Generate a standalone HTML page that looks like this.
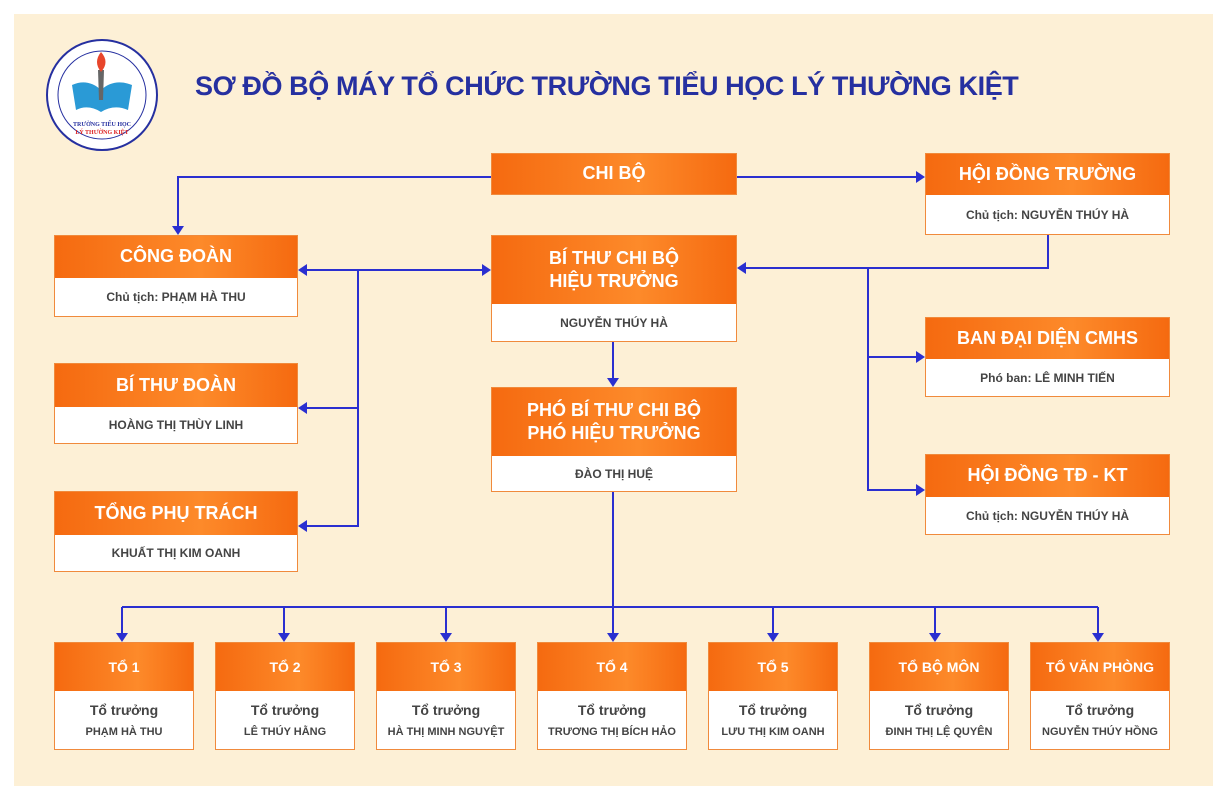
<!DOCTYPE html>
<html><head><meta charset="utf-8"><style>
*{margin:0;padding:0;box-sizing:border-box}
body{width:1228px;height:801px;background:#fff;position:relative;font-family:"Liberation Sans",sans-serif;overflow:hidden}
.bg{position:absolute;left:14px;top:14px;width:1199px;height:772px;background:#fdf0d6}
.b{position:absolute;border:1.5px solid #f08a3c;background:#fff}
.h{background:linear-gradient(90deg,#f56a10,#fd8a2a 60%,#f56a10);color:#fff;font-weight:bold;display:flex;align-items:center;justify-content:center;text-align:center;line-height:1.3}
.w{display:flex;align-items:center;justify-content:center;text-align:center;color:#444;font-weight:bold;font-size:12px}
h1{position:absolute;left:195px;top:71px;font-size:27px;color:#2630a0;font-weight:bold;letter-spacing:-0.4px;white-space:nowrap}
</style></head><body>
<div class="bg"></div>
<svg style="position:absolute;left:0;top:0" width="1228" height="801">
<circle cx="102" cy="95" r="55" fill="#fff" stroke="#2630a0" stroke-width="2"/>
<circle cx="102" cy="95" r="44" fill="none" stroke="#2630a0" stroke-width="1"/>
<path d="M72 85 Q88 78 101 90 Q114 78 132 85 L128 110 Q114 104 101 112 Q88 104 76 110Z" fill="#2a9ad6"/>
<path d="M98 70 L104 70 L103 100 L99 100Z" fill="#666"/>
<path d="M101 52 Q110 62 101 72 Q93 62 101 52Z" fill="#e8452b"/>
<text x="102" y="126" font-size="6" text-anchor="middle" fill="#2630a0" font-family="Liberation Serif" font-weight="bold">TRƯỜNG TIỂU HỌC</text>
<text x="102" y="134" font-size="6" text-anchor="middle" fill="#d22" font-family="Liberation Serif" font-weight="bold">LÝ THƯỜNG KIỆT</text>
<g stroke="#2a2fd0" stroke-width="2" fill="none">
<path d="M491 177 H178 V228"/><path d="M737 177 H918"/>
<path d="M1048 235 V268 H744"/><path d="M868 268 V490 H918"/><path d="M868 357 H918"/>
<path d="M358 270 V526 H305"/><path d="M358 270 H305"/><path d="M358 408 H305"/><path d="M358 270 H484"/>
<path d="M613 342 V380"/><path d="M613 492 V635"/>
<path d="M122 607 H1098"/>
<path d="M122 607 V635"/><path d="M284 607 V635"/><path d="M446 607 V635"/><path d="M773 607 V635"/><path d="M935 607 V635"/><path d="M1098 607 V635"/>
</g>
<g fill="#2a2fd0">
<path d="M172 226 h12 l-6 9z"/>
<path d="M916 171 v12 l9 -6z"/>
<path d="M746 262 v12 l-9 -6z"/>
<path d="M916 351 v12 l9 -6z"/><path d="M916 484 v12 l9 -6z"/>
<path d="M307 264 v12 l-9 -6z"/><path d="M307 402 v12 l-9 -6z"/><path d="M307 520 v12 l-9 -6z"/>
<path d="M482 264 v12 l9 -6z"/>
<path d="M607 378 h12 l-6 9z"/>
<path d="M116 633 h12 l-6 9z"/><path d="M278 633 h12 l-6 9z"/><path d="M440 633 h12 l-6 9z"/><path d="M607 633 h12 l-6 9z"/><path d="M767 633 h12 l-6 9z"/><path d="M929 633 h12 l-6 9z"/><path d="M1092 633 h12 l-6 9z"/>
</g>
</svg>
<h1>SƠ ĐỒ BỘ MÁY TỔ CHỨC TRƯỜNG TIỂU HỌC LÝ THƯỜNG KIỆT</h1>

<div class="b" style="left:491px;top:153px;width:246px;height:42px"><div class="h" style="height:100%;font-size:18px">CHI BỘ</div></div>

<div class="b" style="left:925px;top:153px;width:245px;height:82px"><div class="h" style="height:41px;font-size:18px">HỘI ĐỒNG TRƯỜNG</div><div class="w" style="height:39px">Chủ tịch: NGUYỄN THÚY HÀ</div></div>

<div class="b" style="left:54px;top:235px;width:244px;height:82px"><div class="h" style="height:42px;font-size:18px">CÔNG ĐOÀN</div><div class="w" style="height:38px">Chủ tịch: PHẠM HÀ THU</div></div>

<div class="b" style="left:491px;top:235px;width:246px;height:107px"><div class="h" style="height:68px;font-size:18px">BÍ THƯ CHI BỘ<br>HIỆU TRƯỞNG</div><div class="w" style="height:37px">NGUYỄN THÚY HÀ</div></div>

<div class="b" style="left:925px;top:317px;width:245px;height:80px"><div class="h" style="height:41px;font-size:18px">BAN ĐẠI DIỆN CMHS</div><div class="w" style="height:37px">Phó ban: LÊ MINH TIẾN</div></div>

<div class="b" style="left:54px;top:363px;width:244px;height:81px"><div class="h" style="height:43px;font-size:18px">BÍ THƯ ĐOÀN</div><div class="w" style="height:36px">HOÀNG THỊ THÙY LINH</div></div>

<div class="b" style="left:491px;top:387px;width:246px;height:105px"><div class="h" style="height:68px;font-size:18px">PHÓ BÍ THƯ CHI BỘ<br>PHÓ HIỆU TRƯỞNG</div><div class="w" style="height:35px">ĐÀO THỊ HUỆ</div></div>

<div class="b" style="left:925px;top:454px;width:245px;height:81px"><div class="h" style="height:42px;font-size:18px">HỘI ĐỒNG TĐ - KT</div><div class="w" style="height:37px">Chủ tịch: NGUYỄN THÚY HÀ</div></div>

<div class="b" style="left:54px;top:491px;width:244px;height:81px"><div class="h" style="height:43px;font-size:18px">TỔNG PHỤ TRÁCH</div><div class="w" style="height:36px">KHUẤT THỊ KIM OANH</div></div>

<div class="b" style="left:54px;top:642px;width:140px;height:108px"><div class="h" style="height:48px;font-size:14px">TỔ 1</div><div class="w" style="height:58px;font-size:11px;line-height:1.7"><div><span style="font-size:14px">Tổ trưởng</span><br>PHẠM HÀ THU</div></div></div>
<div class="b" style="left:215px;top:642px;width:140px;height:108px"><div class="h" style="height:48px;font-size:14px">TỔ 2</div><div class="w" style="height:58px;font-size:11px;line-height:1.7"><div><span style="font-size:14px">Tổ trưởng</span><br>LÊ THÚY HẰNG</div></div></div>
<div class="b" style="left:376px;top:642px;width:140px;height:108px"><div class="h" style="height:48px;font-size:14px">TỔ 3</div><div class="w" style="height:58px;font-size:11px;line-height:1.7"><div><span style="font-size:14px">Tổ trưởng</span><br>HÀ THỊ MINH NGUYỆT</div></div></div>
<div class="b" style="left:537px;top:642px;width:150px;height:108px"><div class="h" style="height:48px;font-size:14px">TỔ 4</div><div class="w" style="height:58px;font-size:11px;line-height:1.7"><div><span style="font-size:14px">Tổ trưởng</span><br>TRƯƠNG THỊ BÍCH HẢO</div></div></div>
<div class="b" style="left:708px;top:642px;width:130px;height:108px"><div class="h" style="height:48px;font-size:14px">TỔ 5</div><div class="w" style="height:58px;font-size:11px;line-height:1.7"><div><span style="font-size:14px">Tổ trưởng</span><br>LƯU THỊ KIM OANH</div></div></div>
<div class="b" style="left:869px;top:642px;width:140px;height:108px"><div class="h" style="height:48px;font-size:14px">TỔ BỘ MÔN</div><div class="w" style="height:58px;font-size:11px;line-height:1.7"><div><span style="font-size:14px">Tổ trưởng</span><br>ĐINH THỊ LỆ QUYÊN</div></div></div>
<div class="b" style="left:1030px;top:642px;width:140px;height:108px"><div class="h" style="height:48px;font-size:14px">TỔ VĂN PHÒNG</div><div class="w" style="height:58px;font-size:11px;line-height:1.7"><div><span style="font-size:14px">Tổ trưởng</span><br>NGUYỄN THÚY HỒNG</div></div></div>
</body></html>
